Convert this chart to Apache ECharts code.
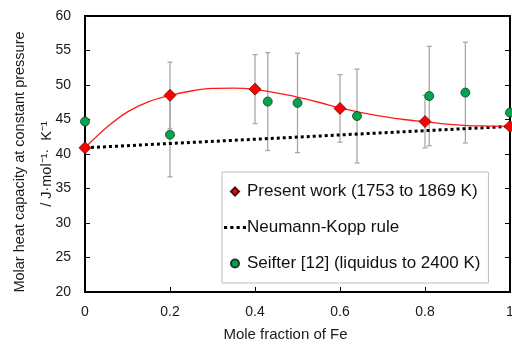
<!DOCTYPE html>
<html><head><meta charset="utf-8">
<script src="https://cdn.jsdelivr.net/npm/echarts@6/dist/echarts.min.js"></script>
<style>html,body{margin:0;padding:0;background:#fff}#c{width:512px;height:345px}</style>
</head><body><div id="c"></div>
<script>
// ---- data ----
var presentX = [0, 0.2, 0.4, 0.6, 0.8, 1.0];
var presentY = [40.9, 48.5, 49.4, 46.6, 44.7, 44.0];
var presentErr = [null, 4.8, 5.0, 4.9, 3.8, null];
var seifterX = [0, 0.2, 0.43, 0.5, 0.64, 0.81, 0.895, 1.0];
var seifterY = [44.7, 42.8, 47.6, 47.4, 45.5, 48.4, 48.9, 46.0];
var seifterErr = [null, 6.1, 7.1, 7.2, 6.8, 7.2, 7.3, null];
var nkX = [0, 1];
var nkY = [40.9, 44.0];
// fitted curve (red line)
var fitX = [0, 0.05, 0.1, 0.15, 0.2, 0.25, 0.3, 0.35, 0.4, 0.45, 0.5, 0.55, 0.6, 0.65, 0.7, 0.75, 0.8, 0.85, 0.9, 0.95, 1.0];
var fitY = [40.9, 43.8, 46.1, 47.6, 48.5, 49.13, 49.5, 49.55, 49.37, 48.85, 48.25, 47.5, 46.67, 46.0, 45.46, 45.0, 44.68, 44.32, 44.12, 44.05, 44.0];
var xTicks = [0, 0.2, 0.4, 0.6, 0.8, 1];
var yTicks = [20, 25, 30, 35, 40, 45, 50, 55, 60];
var names = ['Present work (1753 to 1869 K)', 'Neumann-Kopp rule', 'Seifter [12] (liquidus to 2400 K)'];
var yTitle = ['Molar heat capacity at constant pressure', '/ J\u00b7mol\u207b\u00b9\u00b7  K\u207b\u00b9'];

function pairs(xs, ys) { return xs.map(function (x, i) { return [x, ys[i]]; }); }
function errData(xs, ys, es) {
  var out = [];
  xs.forEach(function (x, i) { if (es[i] != null) out.push([x, ys[i] - es[i], ys[i] + es[i]]); });
  return out;
}
function errRender(params, api) {
  var x = api.value(0), lo = api.value(1), hi = api.value(2);
  var p1 = api.coord([x, lo]), p2 = api.coord([x, hi]);
  var w = 2.5;
  var st = { stroke: '#a8a8a8', lineWidth: 1.3 };
  return { type: 'group', children: [
    { type: 'line', shape: { x1: p1[0], y1: p1[1], x2: p2[0], y2: p2[1] }, style: st },
    { type: 'line', shape: { x1: p1[0] - w, y1: p1[1], x2: p1[0] + w, y2: p1[1] }, style: st },
    { type: 'line', shape: { x1: p2[0] - w, y1: p2[1], x2: p2[0] + w, y2: p2[1] }, style: st }
  ] };
}

var font = 'Liberation Sans, Arial, sans-serif';
var chart = echarts.init(document.getElementById('c'), null, { renderer: 'canvas' });
chart.setOption({
  animation: false,
  textStyle: { fontFamily: font },
  grid: { left: 85, right: 2, top: 16, bottom: 53, show: true, borderColor: '#000', borderWidth: 2,
    containLabel: false, outerBoundsMode: 'none' },
  graphic: [
    { type: 'text', x: 20, y: 162, rotation: Math.PI / 2,
      style: { text: yTitle[0], font: '14.5px ' + font, fill: '#1a1a1a', textAlign: 'center', textVerticalAlign: 'middle' } },
    { type: 'text', x: 47, y: 164, rotation: Math.PI / 2,
      style: { text: yTitle[1], font: '14.5px ' + font, fill: '#1a1a1a', textAlign: 'center', textVerticalAlign: 'middle' } }
  ],
  legend: {
    orient: 'vertical', left: 222, top: 172,
    data: [
      { name: names[0], icon: 'path://M5 0L10 5L5 10L0 5Z' },
      { name: names[1], icon: 'path://M0 0h3v3h-3zM6 0h3v3h-3zM12 0h3v3h-3zM18 0h3v3h-3z' },
      { name: names[2], icon: 'circle' }
    ],
    symbolKeepAspect: true,
    itemWidth: 22, itemHeight: 8, itemGap: 19,
    padding: [11, 8, 11, 2],
    borderColor: '#bdbdbd', borderWidth: 1, backgroundColor: '#fff',
    textStyle: { fontSize: 17, color: '#111', fontFamily: font, padding: [0, 0, 0, -4] }
  },
  xAxis: [{
    type: 'value', min: 0, max: 1, interval: 0.2,
    axisLine: { show: true, lineStyle: { color: '#000', width: 2 } },
    axisTick: { show: true, inside: true, length: 5, lineStyle: { color: '#000', width: 1 } },
    splitLine: { show: false },
    axisLabel: { fontSize: 14, color: '#1a1a1a', margin: 13,
      formatter: function (v) { var t = xTicks.find(function (k) { return Math.abs(k - v) < 1e-9; }); return t === undefined ? '' : String(t); } },
    name: 'Mole fraction of Fe', nameLocation: 'middle', nameGap: 35,
    nameTextStyle: { fontSize: 15, color: '#1a1a1a', padding: [0, 24, 0, 0] }
  }],
  yAxis: [{
    type: 'value', min: 20, max: 60, interval: 5,
    axisLine: { show: true, lineStyle: { color: '#000', width: 2 } },
    axisTick: { show: true, inside: true, length: 5, lineStyle: { color: '#000', width: 1 } },
    splitLine: { show: false },
    axisLabel: { fontSize: 14, color: '#1a1a1a', margin: 14,
      formatter: function (v) { return yTicks.indexOf(v) >= 0 ? String(v) : ''; } }
  }, {
    type: 'value', min: 20, max: 60, interval: 5, position: 'right',
    axisLine: { show: false },
    axisTick: { show: true, inside: true, length: 5, lineStyle: { color: '#000', width: 1 } },
    axisLabel: { show: false }, splitLine: { show: false }
  }],
  series: [
    { type: 'custom', name: 'errSeifter', renderItem: errRender, data: errData(seifterX, seifterY, seifterErr), z: 1, silent: true },
    { type: 'custom', name: 'errPresent', renderItem: errRender, data: errData(presentX, presentY, presentErr), z: 1, silent: true },
    { type: 'line', name: names[1], data: pairs(nkX, nkY), symbol: 'none', z: 2,
      lineStyle: { color: '#000', width: 3, type: [3, 3], cap: 'butt' }, itemStyle: { color: '#000' } },
    { type: 'line', name: 'fit', data: pairs(fitX, fitY), smooth: 0.3, symbol: 'none', z: 2,
      lineStyle: { color: '#ff1a1a', width: 1.3 } },
    { type: 'scatter', name: names[2], data: pairs(seifterX, seifterY), symbol: 'circle', symbolSize: 9, z: 3, clip: false,
      itemStyle: { color: '#00a550', borderColor: '#1f3a25', borderWidth: 0.8, opacity: 1 } },
    { type: 'scatter', name: names[0], data: pairs(presentX, presentY), symbol: 'diamond', symbolSize: 12, z: 4, clip: false,
      itemStyle: { color: '#ff0000', borderColor: '#4a1010', borderWidth: 0.8, opacity: 1 } }
  ]
});
</script></body></html>
